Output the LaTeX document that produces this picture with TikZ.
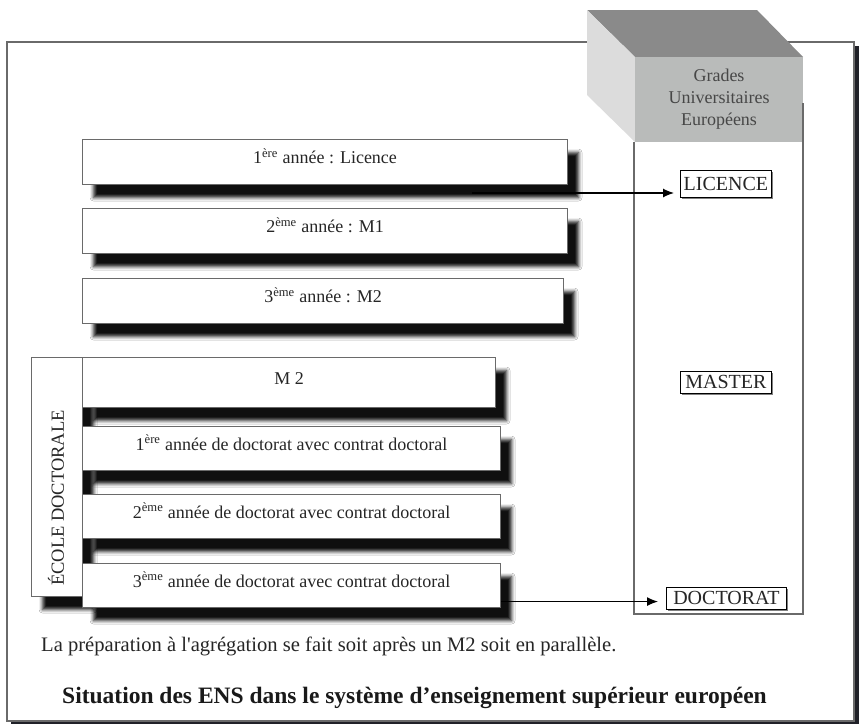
\documentclass[tikz,border=0pt]{standalone}
\usepackage{fontspec}
\setmainfont{Liberation Serif}
\usetikzlibrary{shadows,shadows.blur,arrows.meta}

\definecolor{ombre}{HTML}{202128}
\definecolor{facehaut}{HTML}{8A8A8A}
\definecolor{facegauche}{HTML}{DCDCDC}
\definecolor{faceavant}{HTML}{B9BBBA}
\definecolor{trait}{HTML}{6A6A6A}

\tikzset{
  boite/.style={draw=trait, line width=1.1pt, fill=white, anchor=north west, inner sep=0pt,
    text=black!85, font=\fontsize{18}{20}\selectfont, text height=13pt, text depth=10pt,
    blur shadow={shadow xshift=11pt, shadow yshift=-13pt, shadow blur radius=3.5pt, shadow opacity=94}},
  grade/.style={draw=black, line width=0.9pt, fill=white, anchor=north west, inner sep=1pt,
    text=black!85, font=\fontsize{20}{22}\selectfont,
    drop shadow={shadow xshift=1.2pt, shadow yshift=-1.2pt, fill=gray, opacity=1}},
  fleche/.style={line width=1.2pt, -{Latex[length=11pt,width=9pt]}},
}

\begin{document}
\begin{tikzpicture}[x=1pt, y=-1pt]
\useasboundingbox (0,0) rectangle (859,724);
% cadre general avec son ombre
\fill[ombre] (11,46) rectangle (859,724);
\draw[trait, line width=1.2pt, fill=white] (7,42) rectangle (854,721);

% cube des grades europeens
\fill[facehaut] (587,10) -- (757,10) -- (803,57) -- (635,57) -- cycle;
\fill[facegauche] (587,10) -- (635,57) -- (635,142) -- (587,95) -- cycle;
\fill[faceavant] (635,57) rectangle (803,142);
\node[align=center, text=black!72, font=\fontsize{18}{22}\selectfont] (grades) at (719,99) {Grades\\Universitaires\\Européens};
\draw[trait, line width=1.5pt] (803,103) -- (803,614) -- (634,614) -- (634,142);

% annees ENS
\node[boite, minimum width=485pt, minimum height=45pt] (an1) at (82,139) {1\textsuperscript{ère} année : Licence};
\node[boite, minimum width=485pt, minimum height=45pt] (an2) at (82,208) {2\textsuperscript{ème} année : M1};
\node[boite, minimum width=481pt, minimum height=45pt] (an3) at (82,278) {3\textsuperscript{ème} année : M2};

% ecole doctorale
\node[boite, minimum width=51pt, minimum height=239pt] (ecole) at (31,357) {};
\node[rotate=90, text=black!85, font=\fontsize{18.5}{20}\selectfont] (ecoletxt) at (56,498) {ÉCOLE DOCTORALE};
\node[boite, minimum width=413pt, minimum height=50pt] (m2) at (82,357) {M 2};
\node[boite, minimum width=418pt, minimum height=44pt] (doc1) at (82,426) {1\textsuperscript{ère} année de doctorat avec contrat doctoral};
\node[boite, minimum width=418pt, minimum height=44pt] (doc2) at (82,494) {2\textsuperscript{ème} année de doctorat avec contrat doctoral};
\node[boite, minimum width=418pt, minimum height=44pt] (doc3) at (82,563) {3\textsuperscript{ème} année de doctorat avec contrat doctoral};

% grades
\node[grade, minimum width=91pt, minimum height=27pt] (licence) at (680,170) {LICENCE};
\node[grade, minimum width=91pt, minimum height=22pt] (master) at (680,371) {MASTER};
\node[grade, minimum width=120pt, minimum height=22pt] (doctorat) at (666,587) {DOCTORAT};

% fleches
\coordinate (licdepart) at (472,193);
\draw[fleche, shorten >=6pt] (licdepart) -- (licdepart -| licence.west);
\coordinate (docdepart) at ([yshift=-16pt]doc3.east);
\draw[fleche, shorten >=8pt] (docdepart) -- (docdepart -| doctorat.west);

% textes du bas
\node[anchor=west, text=black!85, font=\fontsize{20.6}{22}\selectfont, inner sep=0pt] (note) at (41,646) {La préparation à l\textquotesingle agrégation se fait soit après un M2 soit en parallèle.};
\node[anchor=west, text=black!90, font=\bfseries\fontsize{23.5}{26}\selectfont, inner sep=0pt] (titre) at (62,698) {Situation des ENS dans le système d’enseignement supérieur européen};
\end{tikzpicture}
\end{document}
